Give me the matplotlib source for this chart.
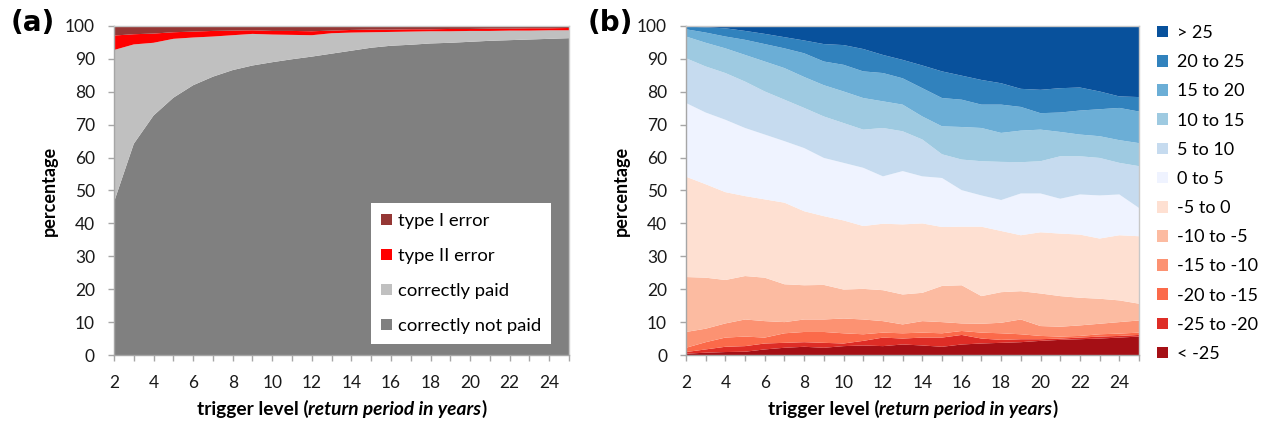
import matplotlib
matplotlib.use('Agg')
import matplotlib.pyplot as plt
import numpy as np
from matplotlib.offsetbox import TextArea, HPacker, AnchoredOffsetbox
from matplotlib.ticker import MultipleLocator

plt.rcParams['font.family'] = ['Lato', 'DejaVu Sans']

years = list(range(2, 26))

# ---- panel (a): shares (%) per trigger level ----
correctly_not_paid = [46.5, 64.2, 72.8, 78.2, 82.0, 84.6, 86.6, 88.0, 89.0, 89.9, 90.7, 91.6,
                      92.5, 93.4, 94.0, 94.3, 94.7, 94.9, 95.2, 95.5, 95.7, 95.9, 96.1, 96.3]
correctly_paid = [46.2, 30.2, 22.1, 17.9, 14.5, 12.2, 10.6, 9.6, 8.4, 7.4, 6.5, 6.2,
                  5.5, 4.7, 4.2, 4.0, 3.7, 3.5, 3.3, 3.0, 2.9, 2.7, 2.6, 2.4]
type_II_error = [4.4, 3.1, 2.8, 2.0, 1.8, 1.7, 1.4, 1.1, 1.1, 1.2, 1.2, 0.8,
                 0.8, 0.8, 0.7, 0.7, 0.6, 0.7, 0.6, 0.7, 0.6, 0.7, 0.6, 0.7]
type_I_error = [2.9, 2.5, 2.3, 1.9, 1.7, 1.5, 1.4, 1.3, 1.5, 1.5, 1.6, 1.4,
                1.2, 1.1, 1.1, 1.0, 1.0, 0.9, 0.9, 0.8, 0.8, 0.7, 0.7, 0.6]
labels_a = ['correctly not paid', 'correctly paid', 'type II error', 'type I error']
colors_a = ['#808080', '#c0c0c0', '#ff0000', '#953735']

# ---- panel (b): shares (%) per class, bottom (< -25) to top (> 25) ----
lt_m25 = [0.4, 0.7, 0.9, 1.0, 1.7, 2.2, 2.5, 2.2, 2.7, 2.9, 2.7, 3.2, 2.9, 2.5, 3.2, 3.5, 3.7, 3.9, 4.3, 4.6, 4.8, 5.0, 5.3, 5.6]
m25_m20 = [0.5, 1.0, 1.6, 1.7, 1.8, 1.5, 1.4, 1.5, 0.8, 1.4, 2.6, 1.8, 2.4, 2.8, 2.9, 1.5, 0.9, 0.9, 0.5, 0.4, 0.5, 0.6, 0.5, 0.5]
m20_m15 = [1.3, 2.2, 2.8, 2.9, 1.8, 2.9, 3.1, 3.3, 3.1, 2.0, 1.5, 1.6, 1.5, 1.3, 1.2, 1.8, 2.0, 1.5, 1.0, 0.6, 0.5, 0.7, 0.7, 0.7]
m15_m10 = [4.8, 4.1, 4.3, 5.2, 5.0, 3.4, 3.8, 3.8, 4.5, 4.5, 3.5, 2.7, 3.5, 3.4, 2.3, 2.7, 3.2, 4.5, 3.0, 3.0, 3.2, 3.2, 3.5, 3.7]
m10_m5 = [16.7, 15.5, 13.2, 13.2, 13.2, 11.5, 10.4, 10.5, 8.8, 9.3, 9.4, 9.1, 8.6, 11.0, 11.6, 8.4, 9.3, 8.6, 9.9, 9.3, 8.4, 7.6, 6.6, 5.1]
m5_0 = [30.5, 28.4, 26.7, 24.3, 23.8, 24.8, 22.5, 20.9, 21.0, 19.1, 20.2, 21.3, 21.1, 17.9, 17.8, 21.1, 18.6, 17.0, 18.6, 19.0, 19.2, 18.3, 19.8, 20.5]
p0_5 = [22.4, 21.8, 22.0, 20.7, 19.7, 18.7, 19.2, 17.7, 17.5, 17.7, 14.4, 16.2, 14.3, 14.9, 11.1, 9.5, 9.4, 12.7, 11.8, 10.6, 12.2, 13.1, 12.4, 8.6]
p5_10 = [13.6, 14.0, 14.2, 14.1, 13.1, 12.6, 12.2, 12.6, 12.1, 11.6, 14.7, 12.1, 11.2, 7.2, 9.3, 10.4, 11.6, 9.5, 9.8, 12.9, 11.6, 11.4, 9.6, 12.7]
p10_15 = [6.6, 7.2, 7.5, 8.1, 9.1, 9.6, 9.4, 9.5, 9.6, 9.6, 8.1, 8.1, 7.0, 8.5, 9.9, 10.1, 8.8, 9.6, 9.6, 7.4, 6.6, 6.6, 6.9, 7.0]
p15_20 = [2.2, 3.1, 3.6, 4.6, 5.3, 6.0, 7.2, 7.2, 8.1, 8.1, 8.6, 8.0, 8.6, 8.6, 8.3, 7.1, 8.6, 7.2, 5.0, 5.9, 7.3, 8.2, 9.8, 9.6]
p20_25 = [0.8, 1.6, 2.5, 2.7, 3.1, 3.4, 3.9, 5.3, 6.0, 6.8, 5.5, 5.6, 6.9, 8.1, 7.3, 7.5, 6.5, 5.5, 7.1, 7.4, 7.0, 5.4, 3.5, 4.4]
gt_25 = [0.2, 0.4, 0.7, 1.5, 2.4, 3.4, 4.4, 5.5, 5.8, 7.0, 8.8, 10.3, 12.0, 13.8, 15.1, 16.4, 17.4, 19.1, 19.4, 18.9, 18.7, 19.9, 21.4, 21.6]
labels_b = ['< -25', '-25 to -20', '-20 to -15', '-15 to -10', '-10 to -5', '-5 to 0',
            '0 to 5', '5 to 10', '10 to 15', '15 to 20', '20 to 25', '> 25']
colors_b = ['#a50f15', '#de2d26', '#fb6a4a', '#fc9272', '#fcbba1', '#fee0d2',
            '#eff3ff', '#c6dbef', '#9ecae1', '#6baed6', '#3182bd', '#08519c']

W, H = 1265, 423
PX = 72 / 100  # points per pixel
fig = plt.figure(figsize=(W / 100, H / 100), dpi=100)
axa = fig.add_axes([114 / W, 68 / H, 455 / W, 329 / H])
axb = fig.add_axes([686 / W, 68 / H, 453 / W, 329 / H])

axa.stackplot(years, correctly_not_paid, correctly_paid, type_II_error, type_I_error,
              colors=colors_a, labels=labels_a, linewidth=0)
axb.stackplot(years, lt_m25, m25_m20, m20_m15, m15_m10, m10_m5, m5_0, p0_5, p5_10,
              p10_15, p15_20, p20_25, gt_25, colors=colors_b, labels=labels_b, linewidth=0)

tick_fs = 12.5
for ax in (axa, axb):
    ax.set_xlim(2, 25)
    ax.set_ylim(0, 100)
    ax.yaxis.set_major_locator(MultipleLocator(10))
    ax.xaxis.set_major_locator(MultipleLocator(2))
    ax.xaxis.set_minor_locator(MultipleLocator(1))
    for s in ax.spines.values():
        s.set_color('#c8c8c8')
        s.set_linewidth(1.0)
    ax.spines['left'].set_color('#a6a6a6')
    ax.spines['bottom'].set_color('#a6a6a6')
    ax.tick_params(axis='both', which='both', direction='out', color='#a6a6a6',
                   labelsize=tick_fs, labelcolor='#1a1a1a', width=1.0, length=6 * PX)
    ax.tick_params(axis='y', pad=13 * PX)
    ax.tick_params(axis='x', which='both', pad=14 * PX)
    ax.set_ylabel('percentage', fontsize=13, fontweight='bold', labelpad=5)
    parts = [TextArea('trigger level (', textprops=dict(fontsize=13.8, fontweight='bold')),
             TextArea('return period in years', textprops=dict(fontsize=13.8, fontweight='bold', style='italic')),
             TextArea(')', textprops=dict(fontsize=13.8, fontweight='bold'))]
    box = HPacker(children=parts, align='baseline', pad=0, sep=0)
    anc = AnchoredOffsetbox(loc='upper center', child=box, frameon=False,
                            bbox_to_anchor=(0.5, -0.137), bbox_transform=ax.transAxes,
                            borderpad=0, pad=0)
    ax.add_artist(anc)

# legend panel (a)
hs, ls = axa.get_legend_handles_labels()
leg_a = axa.legend(hs[::-1], ls[::-1], loc='lower right', bbox_to_anchor=(0.9604, 0.033),
                   fontsize=13.3, frameon=True, fancybox=False, framealpha=1,
                   edgecolor='white', handlelength=0.6, handleheight=0.6,
                   handletextpad=0.3, labelspacing=1.03, borderpad=0.55, borderaxespad=0)
leg_a.get_frame().set_linewidth(0)

# legend panel (b)
hb, lb = axb.get_legend_handles_labels()
fig.legend(hb[::-1], lb[::-1], loc='upper left', bbox_to_anchor=(1157 / W, 1 - 25 / H),
           fontsize=13, frameon=False, handlelength=0.62, handleheight=0.62,
           handletextpad=0.5, labelspacing=0.73, borderpad=0, borderaxespad=0)

fig.text(11 / W, 1 - 23 / H, '(a)', fontsize=20, fontweight='bold', va='center', ha='left',
         family='DejaVu Sans')
fig.text(588 / W, 1 - 23 / H, '(b)', fontsize=20, fontweight='bold', va='center', ha='left',
         family='DejaVu Sans')

fig.savefig('out.png', dpi=100)
